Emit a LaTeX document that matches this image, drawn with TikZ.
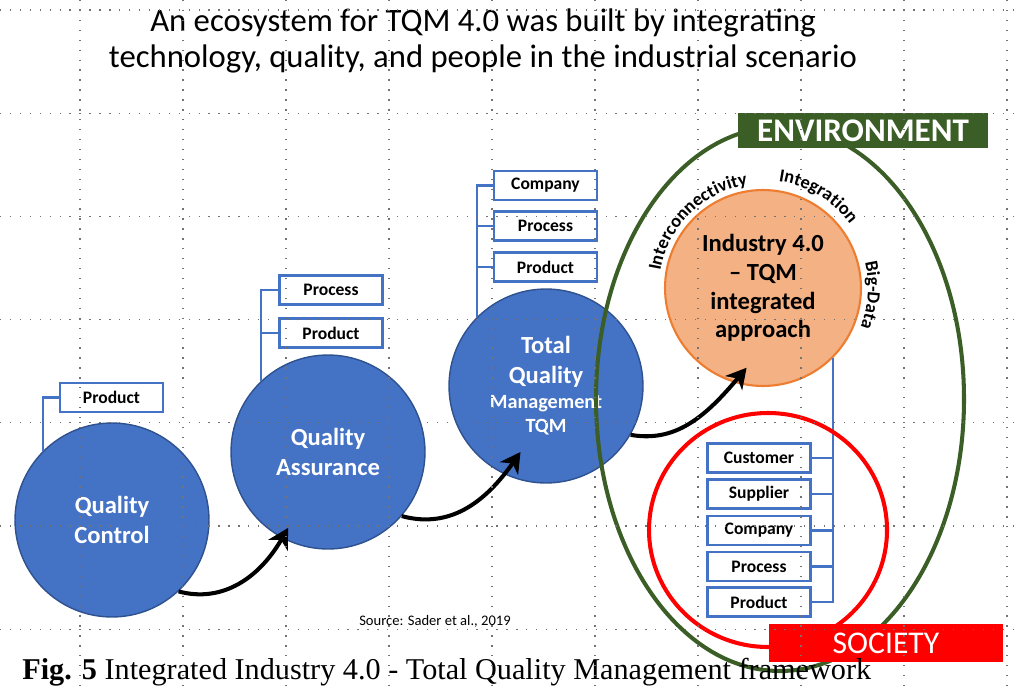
\documentclass[tikz,border=0pt]{standalone}
\usepackage{fontspec}
\setmainfont{Carlito}
\newfontfamily\capfont{Liberation Serif}
\usetikzlibrary{arrows.meta,decorations.text}
\definecolor{qblue}{HTML}{4472C4}
\definecolor{qblueline}{HTML}{2F528F}
\definecolor{qorange}{HTML}{ED7D31}
\definecolor{qsalmon}{HTML}{F4B183}
\definecolor{qgreen}{HTML}{3B5E27}
\definecolor{qred}{HTML}{FF0000}
\tikzset{
  stage/.style={circle,fill=qblue,draw=qblueline,line width=0.8pt,minimum size=3.88cm,
    inner sep=0pt,text=white,align=center,font=\bfseries\fontsize{14}{17}\selectfont},
  core/.style={circle,fill=qsalmon,draw=qorange,line width=1.2pt,minimum size=3.92cm,
    inner sep=0pt,align=center,font=\bfseries\fontsize{14}{16.3}\selectfont},
  item/.style={draw=qblue,line width=1.3pt,fill=white,minimum width=2.06cm,minimum height=0.58cm,
    inner sep=0pt,font=\bfseries\fontsize{10}{12}\selectfont},
  bracket/.style={draw=qblue,line width=1.2pt},
  flow/.style={-{Stealth[length=0.4cm,width=0.44cm,inset=0.12cm]},line width=2.3pt},
  tag/.style={text=white,inner sep=0pt},
  dotgrid/.style={black!55,line width=0.75pt,dash pattern=on 0.75pt off 4.9pt},
}
\begin{document}
\begin{tikzpicture}[x=0.02cm,y=-0.02cm]
%width=1020px
%height=689px
\fill[white] (0,0) rectangle (1020,689);
\useasboundingbox (0,0) rectangle (1020,689);
% title
\node[align=center,font=\fontsize{18.6}{21}\selectfont] (title) at (483,41)
  {An ecosystem for TQM 4.0 was built by integrating\\technology, quality, and people in the industrial scenario};
% stages
\node[stage] (qc)  at (112,520) {Quality\\Control};
\node[stage] (qa)  at (328,452) {Quality\\Assurance};
\node[stage] (tqm) at (546,386) {Total\\Quality\\[-3pt]{\fontsize{11.5}{13}\selectfont Management}\\[-3pt]{\fontsize{11.5}{13}\selectfont TQM}};
\node[core]  (ind) at (763,288) {Industry 4.0\\-- TQM\\integrated\\approach};
% items
\node[item] (qcprod)  at (111.5,397.5) {Product};
\node[item] (qaproc)  at (331,290)     {Process};
\node[item] (qaprod)  at (331,333)     {Product};
\node[item] (tqmcomp) at (545.5,185.5) {Company};
\node[item] (tqmproc) at (545.5,226)   {Process};
\node[item] (tqmprod) at (545.5,267)   {Product};
\node[item] (scust)   at (759,458)     {Customer};
\node[item] (ssupp)   at (759,494)     {Supplier};
\node[item] (scomp)   at (759,530.5)   {Company};
\node[item] (sproc)   at (759,566.5)   {Process};
\node[item] (sprod)   at (759,602)     {Product};
% brackets
\draw[bracket] (qcprod.west) -| (qc.135);
\draw[bracket] (qaproc.west) -| (qa.133);
\draw[bracket] (qaprod.west) -- (qaprod.west -| qa.133);
\draw[bracket] (tqmcomp.west) -| (tqm.135);
\draw[bracket] (tqmproc.west) -- (tqmproc.west -| tqm.135);
\draw[bracket] (tqmprod.west) -- (tqmprod.west -| tqm.135);
\draw[bracket] (ind.-45) |- (sprod.east);
\foreach \s in {scust,ssupp,scomp,sproc}
  \draw[bracket] (\s.east) -- (\s.east -| ind.-45);
% arrows
\draw[flow,shorten >=-0.24cm] (qc.-47)  to[out=-15,in=240] (qa.-118);
\draw[flow,shorten >=-0.55cm] (qa.-41)  to[out=-15,in=235] (tqm.-115);
\draw[flow,shorten >=-0.39cm] (tqm.-30) to[out=-10,in=230] (ind.-107);
% rings
\draw[qgreen,line width=2.3pt] (780,399) ellipse [x radius=184,y radius=272];
\draw[qred,line width=2.3pt]   (768,530) ellipse [x radius=119,y radius=117];
% arc labels
\begin{scope}[shift={(ind.center)},x=0.02cm,y=0.02cm]
\path[decorate,decoration={text along path,text align=center,
  text={|\bfseries\fontsize{10.5}{12}\selectfont|Interconnectivity}}]
  (172:104) arc[start angle=172,end angle=97,radius=104];
\path[decorate,decoration={text along path,text align=center,
  text={|\bfseries\fontsize{10.5}{12}\selectfont|Integration}}]
  (82:108) arc[start angle=82,end angle=36,radius=108];
\path[decorate,decoration={text along path,text align=center,
  text={|\bfseries\fontsize{10.5}{12}\selectfont|Big-Data}}]
  (16:105) arc[start angle=16,end angle=-24,radius=105];
\end{scope}
% tags
\node[tag,fill=qgreen,minimum width=5cm,minimum height=0.7cm,font=\bfseries\fontsize{18.8}{20}\selectfont]
  (env) at (863,130.5) {ENVIRONMENT};
\node[tag,fill=qred,minimum width=4.68cm,minimum height=0.76cm,font=\fontsize{18}{20}\selectfont]
  (soc) at (886,643) {SOCIETY};
% source and caption
\node[font=\fontsize{8.3}{10}\selectfont] (src) at (435,621) {Source: Sader et al., 2019};
\node[anchor=west,inner sep=0pt,font=\capfont\fontsize{17.2}{19}\selectfont] (cap) at (22,672)
  {\textbf{Fig. 5} Integrated Industry 4.0 - Total Quality Management framework};
% grid
\foreach \gx in {0,...,9}
  \draw[dotgrid] ({80+103*\gx},0) -- ++(0,689);
\foreach \gy in {0,...,6}
  \draw[dotgrid] (0,{10+103.2*\gy}) -- ++(1020,0);
\end{tikzpicture}
\end{document}
